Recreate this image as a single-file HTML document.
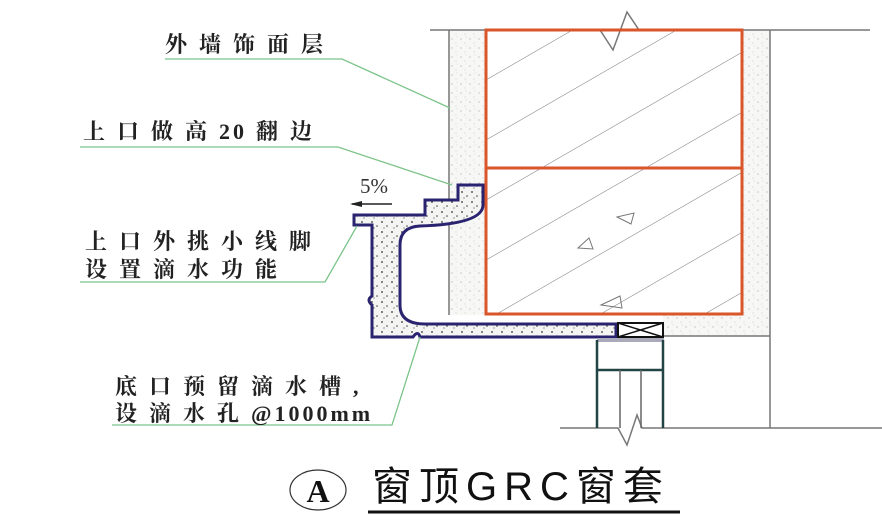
<!DOCTYPE html>
<html><head><meta charset="utf-8"><style>
html,body{margin:0;padding:0;background:#fff;width:882px;height:526px;overflow:hidden}
svg{display:block}
.lbl{font-family:"Liberation Serif","Noto Serif CJK SC",serif;font-size:22px;font-weight:bold;fill:#222;letter-spacing:12px}
.lt{letter-spacing:3px}
</style></head><body>
<svg width="882" height="526" viewBox="0 0 882 526" xmlns="http://www.w3.org/2000/svg">
<defs>
<pattern id="dots" width="9" height="9" patternUnits="userSpaceOnUse">
<rect width="9" height="9" fill="#f7f7f5"/>
<circle cx="2" cy="3" r="0.6" fill="#aaa"/><circle cx="6" cy="7" r="0.5" fill="#bbb"/><circle cx="7" cy="1" r="0.4" fill="#bbb"/>
</pattern>
<pattern id="grc" width="10" height="10" patternUnits="userSpaceOnUse">
<rect width="10" height="10" fill="#f4f4f2"/>
<circle cx="2" cy="2" r="0.9" fill="#333"/><circle cx="7" cy="6" r="0.8" fill="#444"/><circle cx="4" cy="8" r="0.6" fill="#555"/>
</pattern>
<pattern id="hatch" width="52" height="52" patternUnits="userSpaceOnUse" patternTransform="rotate(-30)">
<line x1="0" y1="0" x2="52" y2="0" stroke="#777" stroke-width="1"/>
</pattern>
<clipPath id="wc"><rect x="486" y="30" width="256" height="284"/></clipPath>
</defs>
<rect x="449" y="30" width="36" height="285" fill="url(#dots)"/>
<rect x="742" y="30" width="28" height="306" fill="url(#dots)"/>
<rect x="663" y="314" width="107" height="22" fill="url(#dots)"/>
<rect x="486" y="30" width="256" height="284" fill="#fff"/>
<rect x="486" y="30" width="256" height="284" fill="url(#hatch)" clip-path="url(#wc)"/>
<g fill="none" stroke="#777" stroke-width="1">
<path d="M617,217 L634,213 L631,224 Z"/><path d="M578,248 L593,249 L589,238 Z"/><path d="M601,305 L620,296 L622,308 Z"/>
</g>
<g stroke="#777" stroke-width="1.5" fill="none">
<path d="M430,30 H600 L613,50 L627,12 L639,30 H870"/>
<line x1="449" y1="30" x2="449" y2="315"/>
<line x1="770" y1="30" x2="770" y2="428"/>
<line x1="663" y1="336" x2="770" y2="336"/>
<path d="M560,428 H618 L627,445 L637,415 L642,428 H882"/>
</g>
<g stroke="#d9552a" stroke-width="3" fill="none">
<rect x="486" y="30" width="256" height="284"/>
<line x1="486" y1="168" x2="742" y2="168"/>
</g>
<path d="M458,185 H483 V205 Q483,224 420,226 Q400,227 400,245 V305 Q400,324 425,324 H616 V337 H420 Q418,330 413,337 H372 V305 Q366,300 372,296 V225 H354 V215 H425 V200 H458 Z" fill="url(#grc)" stroke="#2a2470" stroke-width="3"/>
<rect x="618" y="323" width="45" height="14" fill="#fff" stroke="#111" stroke-width="2"/>
<path d="M618,323 L663,337 M663,323 L618,337" stroke="#111" stroke-width="1.5"/>
<rect x="597" y="338" width="67" height="4" fill="#aab"/>
<g stroke="#244" stroke-width="2.5" fill="none">
<line x1="597" y1="340" x2="597" y2="428"/><line x1="663" y1="340" x2="663" y2="428"/>
<line x1="597" y1="370" x2="663" y2="370"/>
</g>
<g stroke="#666" stroke-width="1.5"><line x1="620" y1="370" x2="620" y2="428"/><line x1="641" y1="370" x2="641" y2="428"/></g>
<text x="360" y="193" font-family="Liberation Serif,serif" font-size="21" fill="#333">5%</text>
<line x1="352" y1="204" x2="392" y2="204" stroke="#222" stroke-width="1.5"/>
<path d="M350,204 L362,201 L362,207 Z" fill="#222"/>
<g stroke="#7cc48a" stroke-width="1.3" fill="none">
<path d="M165,59 H342 L450,108"/>
<path d="M80,147 H338 L452,185"/>
<path d="M80,282 H325 L357,226"/>
<path d="M112,425 H392 L420,337"/>
</g>
<text class="lbl" x="165" y="52">外墙饰面层</text>
<text class="lbl" x="83" y="139">上口做高<tspan class="lt">20</tspan><tspan dx="9">翻边</tspan></text>
<text class="lbl" x="85" y="249">上口外挑小线脚</text>
<text class="lbl" x="85" y="277">设置滴水功能</text>
<text class="lbl" x="115" y="394">底口预留滴水槽,</text>
<text class="lbl" x="115" y="421">设滴水孔<tspan class="lt">@1000mm</tspan></text>
<ellipse cx="318" cy="490" rx="28" ry="20" fill="none" stroke="#333" stroke-width="1.2"/>
<text x="318" y="502" text-anchor="middle" font-family="Liberation Serif,serif" font-size="32" font-weight="bold" fill="#111">A</text>
<text x="372" y="500" font-family="Liberation Sans,Noto Sans CJK SC,sans-serif" font-size="40" letter-spacing="7" fill="#111">窗顶GRC窗套</text>
<line x1="368" y1="512" x2="680" y2="512" stroke="#111" stroke-width="3"/>
</svg>
</body></html>
